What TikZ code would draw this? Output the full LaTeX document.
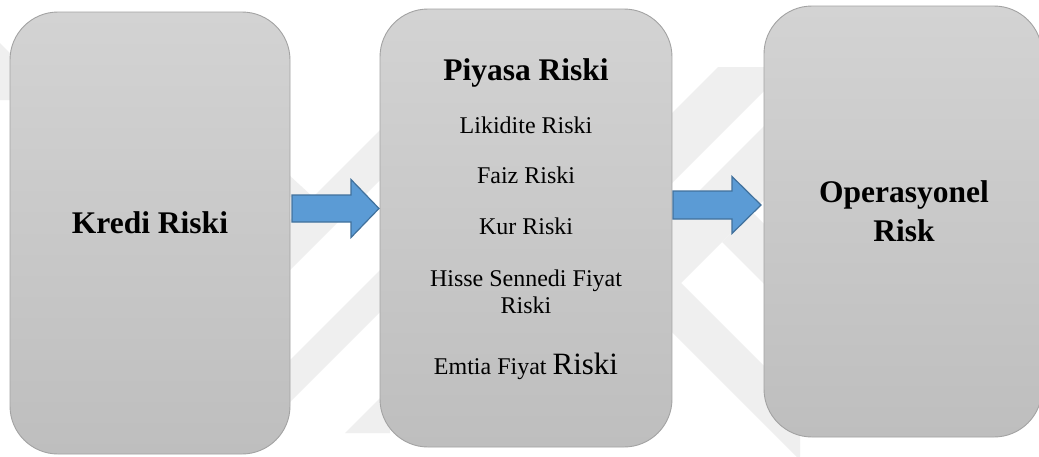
\documentclass[tikz,border=0pt]{standalone}
\usepackage{fontspec}
\setmainfont{Liberation Serif}
\usetikzlibrary{calc}
\definecolor{boxtop}{HTML}{D3D3D3}
\definecolor{boxbot}{HTML}{BEBEBE}
\definecolor{boxline}{HTML}{A3A3A3}
\definecolor{arrowfill}{HTML}{5B9BD5}
\definecolor{arrowline}{HTML}{41719C}
\definecolor{wmark}{HTML}{EFEFEF}
\begin{document}
\begin{tikzpicture}[x=1pt,y=-1pt,
  riskbox/.style={draw=boxline, line width=0.9pt, rounded corners=48pt,
    top color=boxtop, bottom color=boxbot, inner sep=0pt, outer sep=0pt},
  titletxt/.style={font=\fontsize{31.5}{38}\selectfont\bfseries, anchor=base, inner sep=0pt},
  itemtxt/.style={font=\fontsize{24}{27}\selectfont, anchor=base, inner sep=0pt},
  blockarr/.style={fill=arrowfill, draw=arrowline, line width=1.2pt, line join=miter},
  wm/.style={fill=wmark}]
\useasboundingbox (0,0) rectangle (1039,456);
\fill[white] (0,0) rectangle (1039,456);
% faint background watermark
\fill[wm] (0,43) -- (10,53) -- (10,100) -- (0,100) -- cycle;
\fill[wm] (289,175) -- (313,197) -- (289,197) -- cycle;
\fill[wm] (280,230) -- (390,120) -- (390,170) -- (280,280) -- cycle;
\fill[wm] (280,370) -- (390,260) -- (390,302) -- (280,412) -- cycle;
\fill[wm] (345,433) -- (390,388) -- (390,433) -- cycle;
\fill[wm] (672,113) -- (718,67) -- (788,67) -- (672,183) -- cycle;
\fill[wm] (615,275) -- (780,110) -- (780,184) -- (681,283) -- (800,402) -- (800,460) -- cycle;
\fill[wm] (722,242) -- (752,212) -- (800,260) -- (800,320) -- cycle;
% boxes
\node[riskbox, minimum width=280pt, minimum height=442pt] (b1) at (150,233) {};
\node[riskbox, minimum width=292pt, minimum height=438pt] (b2) at (526,228) {};
\node[riskbox, minimum width=278pt, minimum height=431pt] (b3) at (903,221.5) {};
% texts
\node[titletxt] (t1) at (150,233) {Kredi Riski};
\node[titletxt] (t2) at (526,80) {Piyasa Riski};
\node[itemtxt] (l1) at (526,133) {Likidite Riski};
\node[itemtxt] (l2) at (526,183) {Faiz Riski};
\node[itemtxt] (l3) at (526,234) {Kur Riski};
\node[itemtxt] (l4) at (526,286) {Hisse Sennedi Fiyat};
\node[itemtxt] (l4b) at (526,313) {Riski};
\node[itemtxt] (l5) at (526,374) {Emtia Fiyat {\fontsize{31}{36}\selectfont Riski}};
\node[titletxt] (t3) at (904,202) {Operasyonel};
\node[titletxt] (t3b) at (904,241) {Risk};
% arrows
\path (b1.east) ++(2,-24.5) coordinate (a1s);
\path (b2.west) ++(-1,-19.5) coordinate (a1e);
\path (b2.east) ++(1,-23) coordinate (a2s);
\path (b3.west) ++(-3,-16.5) coordinate (a2e);
\draw[blockarr] let \p1=(a1s), \p2=(a1e) in
  (\x1,\y1+13.5pt) -- (\x2-28pt,\y1+13.5pt) -- (\x2-28pt,\y1+29pt) -- (\x2,\y1)
  -- (\x2-28pt,\y1-29pt) -- (\x2-28pt,\y1-13.5pt) -- (\x1,\y1-13.5pt) -- cycle;
\draw[blockarr] let \p1=(a2s), \p2=(a2e) in
  (\x1,\y1+14pt) -- (\x2-29pt,\y1+14pt) -- (\x2-29pt,\y1+28.5pt) -- (\x2,\y1)
  -- (\x2-29pt,\y1-28.5pt) -- (\x2-29pt,\y1-14pt) -- (\x1,\y1-14pt) -- cycle;
\end{tikzpicture}
\end{document}
